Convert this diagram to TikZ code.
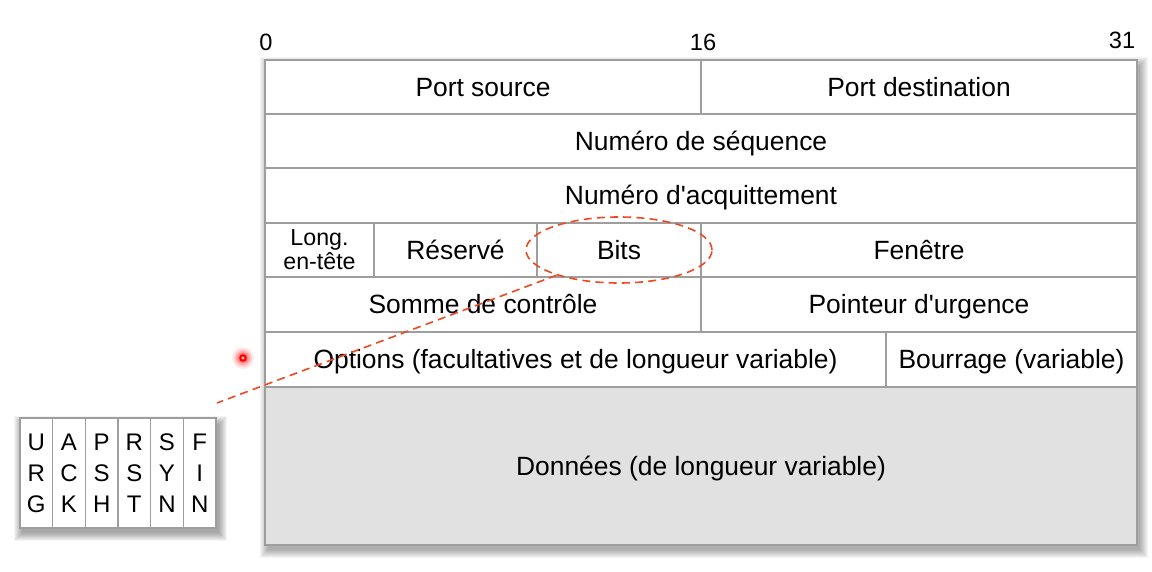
\documentclass[tikz,border=0pt]{standalone}
\usepackage{fontspec}
\setmainfont{Liberation Sans}
\usetikzlibrary{shapes.geometric}
\definecolor{gridgray}{RGB}{158,158,158}
\definecolor{datagray}{RGB}{225,225,225}
\definecolor{markred}{RGB}{238,72,36}
\begin{document}
\begin{tikzpicture}[x=0.5pt,y=-0.5pt,
  cellbox/.style={draw=gridgray, line width=0.75pt, fill=white, inner sep=0pt,
    font=\fontsize{13.2}{15}\selectfont, text=black, text height=12.45pt, text depth=3pt},
  flagbox/.style={draw=gridgray, line width=0.6pt, fill=white, inner sep=0pt,
    minimum width=16.33pt, minimum height=55pt, align=center,
    text height=39.6pt, text depth=0pt,
    font=\fontsize{12}{15.5}\selectfont},
  bitlabel/.style={font=\fontsize{11.8}{13}\selectfont, inner sep=0pt},
  marker/.style={draw=markred, line width=0.8pt, dash pattern=on 4pt off 2.6pt}]
\useasboundingbox (0,0) rectangle (1152,572);
\fill[white] (0,0) rectangle (1152,572);

% soft shadows under the header table and the flag strip
\foreach \k in {0,...,8}{
  \fill[black, opacity=0.04] (268-\k,65-\k) rectangle (1140+\k,550+\k);
  \fill[black, opacity=0.045] (22-\k,424-\k) rectangle (219+\k,533+\k);
}

% bit positions
\node[bitlabel] (b0)  at (266,42) {0};
\node[bitlabel] (b16) at (703,42) {16};
\node[bitlabel] (b31) at (1122,40) {31};

% TCP header fields
\node[cellbox, minimum width=218pt, minimum height=27pt] (psrc) at (483,87) {Port source};
\node[cellbox, minimum width=218pt, minimum height=27pt] (pdst) at (919,87) {Port destination};
\node[cellbox, minimum width=436pt, minimum height=27pt] (seq) at (701,141) {Numéro de séquence};
\node[cellbox, minimum width=436pt, minimum height=27.5pt] (ack) at (701,195.5) {Numéro d\textquotesingle acquittement};
\node[cellbox, minimum width=54.5pt, minimum height=27pt, align=center,
  text height=, text depth=,
  font=\fontsize{11.6}{12}\selectfont] (hlen) at (319.5,250) {Long.\\en-tête};
\node[cellbox, minimum width=81.5pt, minimum height=27pt] (resv) at (455.5,250) {Réservé};
\node[cellbox, minimum width=82pt, minimum height=27pt] (bits) at (619,250) {Bits};
\node[cellbox, minimum width=218pt, minimum height=27pt] (win) at (919,250) {Fenêtre};
\node[cellbox, minimum width=218pt, minimum height=27.5pt] (csum) at (483,304.5) {Somme de contrôle};
\node[cellbox, minimum width=218pt, minimum height=27.5pt] (urgp) at (919,304.5) {Pointeur d\textquotesingle urgence};
\node[cellbox, minimum width=310.5pt, minimum height=27.5pt] (opts) at (575.5,359.5) {Options (facultatives et de longueur variable)};
\node[cellbox, minimum width=125.5pt, minimum height=27.5pt] (pad) at (1011.5,359.5) {Bourrage (variable)};
\node[cellbox, fill=datagray, minimum width=436pt, minimum height=79pt] (data) at (701,466) {Données (de longueur variable)};

% control flags
\node[flagbox] (furg) at (36.3,473)  {U\\R\\G};
\node[flagbox] (fack) at (69.0,473)  {A\\C\\K};
\node[flagbox] (fpsh) at (101.7,473) {P\\S\\H};
\node[flagbox] (frst) at (134.3,473) {R\\S\\T};
\node[flagbox] (fsyn) at (167.0,473) {S\\Y\\N};
\node[flagbox] (ffin) at (199.7,473) {F\\I\\N};

% highlight of the flag bits and its leader line
\node[marker, ellipse, minimum width=93pt, minimum height=33pt, inner sep=0pt] (ring) at (619,250) {};
\coordinate (flagtip) at (217,403);
\draw[marker] (ring.202) -- (flagtip);

% pointer dot
\foreach \r/\o in {11/0.08,9/0.12,7/0.18,5.5/0.25}{
  \fill[red, opacity=\o] (243,358) circle[radius=\r*0.5pt];
}
\fill[red] (243,358) circle[radius=1.9pt];
\fill[red!20] (243,358) circle[radius=0.8pt];
\end{tikzpicture}
\end{document}
